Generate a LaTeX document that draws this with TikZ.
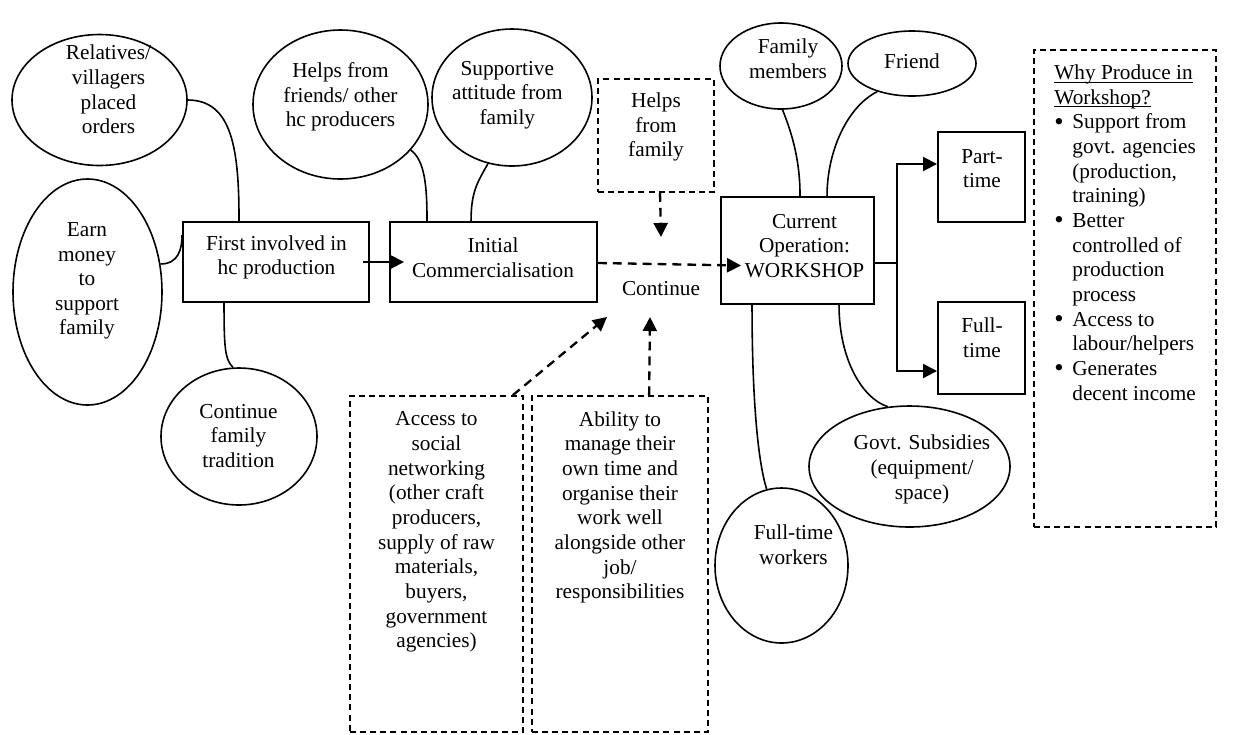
\documentclass[tikz,border=0pt]{standalone}
\usepackage{fontspec}
\setmainfont{Liberation Serif}
\usetikzlibrary{arrows.meta,calc,shapes.geometric}

% bullet item helpers for the list box
\newcommand\itm{\makebox[10.15pt][l]{\raisebox{-0.7pt}{\fontsize{15}{14}\selectfont\textbullet}}}
\newcommand\ind{\hspace*{10.15pt}}
\newcommand\ulhead[1]{\underline{\raisebox{0pt}[\height][0pt]{#1}}}

\tikzset{
  ell/.style 2 args={draw, ellipse, line width=0.9pt, inner sep=0pt,
    minimum width=#1*0.564pt, minimum height=#2*0.564pt},
  rbox/.style 2 args={draw, rectangle, line width=1.1pt, inner sep=0pt,
    minimum width=#1*0.564pt, minimum height=#2*0.564pt},
  dbox/.style 2 args={draw, rectangle, line width=1pt, dash pattern=on 3.4pt off 2.3pt,
    inner sep=0pt, minimum width=#1*0.564pt, minimum height=#2*0.564pt},
  txt/.style={align=center, inner sep=0pt, font=\fontsize{12}{13.9}\selectfont},
  link/.style={line width=0.9pt},
  arr/.style={line width=1.1pt, -{Triangle[length=7.9pt, width=7.9pt]}},
  darr/.style={line width=1.3pt, dash pattern=on 5pt off 3.4pt, -{Triangle[length=7.9pt, width=7.9pt]}},
}

\begin{document}
\begin{tikzpicture}[x=0.564pt, y=-0.564pt]
\useasboundingbox (0,0) rectangle (1240,734);

% ---- ellipses (influences) ----
\node[ell={175}{131}] (rel) at (99.5,100) {};
\node[txt] (rel-t) at (108.5,89.5) {Relatives/\\villagers\\placed\\orders};
\node[ell={149}{226}] (earn) at (87.5,292) {};
\node[txt] (earn-t) at (87,281) {Earn\\money\\to\\support\\family};
\node[ell={156}{137}] (trad) at (239,436.5) {};
\node[txt] (trad-t) at (238.5,436) {Continue\\family\\tradition};
\node[ell={175}{149}] (frd) at (340.5,104.5) {};
\node[txt] (frd-t) at (340.5,97) {Helps from\\friends/ other\\hc producers};
\node[ell={160}{137}] (supp) at (512,97.5) {};
\node[txt] (supp-t) at (507.3,95) {Supportive\\attitude from\\family};
\node[ell={122}{86}] (fam) at (781,66) {};
\node[txt] (fam-t) at (788,58.5) {Family\\members};
\node[ell={128}{65}] (frnd) at (912,63.5) {};
\node[txt] (frnd-t) at (912,61) {Friend};
\node[ell={201}{121}] (govt) at (909.5,466.5) {};
\node[txt] (govt-t) at (922,469.5) {Govt. Subsidies\\(equipment/\\space)};
\node[ell={133}{155}] (ftw) at (781.5,565.5) {};
\node[txt] (ftw-t) at (793.5,545) {Full-time\\workers};

% ---- stage boxes ----
\node[rbox={186}{80}] (box1) at (276,262) {};
\node[txt] (box1-t) at (276.5,257.5) {First involved in\\hc production};
\node[rbox={207}{80}] (box2) at (493.5,262) {};
\node[txt] (box2-t) at (493,258) {Initial\\Commercialisation};
\node[rbox={153}{107}] (box3) at (797.5,250.5) {};
\node[txt] (box3-t) at (804.5,246) {Current\\Operation:\\WORKSHOP};
\node[rbox={87}{90}] (part) at (981.5,177) {};
\node[txt] (part-t) at (982,168.5) {Part-\\time};
\node[rbox={87}{92}] (full) at (981.5,348) {};
\node[txt] (full-t) at (982,338) {Full-\\time};

% ---- dashed boxes ----
\node[dbox={116}{113}] (famhelp) at (656,135.5) {};
\node[txt] (famhelp-t) at (656,127) {Helps\\from\\family};
\node[txt] (cont) at (661,289) {Continue};
\node[dbox={173}{336}] (acc) at (436.5,564) {};
\node[txt, anchor=north] (acc-t) at (436.5,411.5) {Access to\\social\\networking\\(other craft\\producers,\\supply of raw\\materials,\\buyers,\\government\\agencies)};
\node[dbox={176}{336}] (abil) at (620,564) {};
\node[txt, anchor=north] (abil-t) at (620,411) {Ability to\\manage their\\own time and\\organise their\\work well\\alongside other\\job/\\responsibilities};
\node[dbox={182}{477}] (why) at (1125,288.5) {};
\node[txt, align=left, anchor=north west] (why-t) at (1054,64.5) {\ulhead{Why Produce in}\\\ulhead{Workshop?}\\
  \itm Support from\\\ind govt. agencies\\\ind (production,\\\ind training)\\
  \itm Better\\\ind controlled of\\\ind production\\\ind process\\
  \itm Access to\\\ind labour/helpers\\
  \itm Generates\\\ind decent income};

% ---- arrow end points around "Continue" ----
\coordinate (c-top) at (661,237);
\coordinate (c-left) at (607,317);
\coordinate (c-bot) at (650,317);
\coordinate (fk) at ($(box3.east)+(22,12.5)$);

% ---- curved links ----
\draw[link] (rel.east) .. controls +(45,0) and +(0,-70) .. ($(box1.north west)+(57,0)$);
\draw[link] (earn.21) .. controls +(18,0) and +(0,14) .. ($(box1.north west)+(0,14)$);
\draw[link] ($(box1.south west)+(42,0)$) .. controls +(0,45) and +(-8,-8) .. (trad.95);
\draw[link] (frd.-33) .. controls +(14,10) and +(0,-35) .. ($(box2.north west)+(38,0)$);
\draw[link] (supp.-110) .. controls +(-10,18) and +(0,-30) .. ($(box2.north west)+(82,0)$);
\draw[link] (fam.-88) .. controls +(10,25) and +(0,-35) .. ($(box3.north west)+(80,0)$);
\draw[link] (frnd.-141) .. controls +(-30,15) and +(0,-45) .. ($(box3.north west)+(107,0)$);
\draw[link] ($(box3.south west)+(119,0)$) .. controls +(0,55) and +(-25,-8) .. (govt.110);
\draw[link] ($(box3.south west)+(32,0)$) .. controls +(0,100) and +(-8,-25) .. (ftw.101);

% ---- arrows ----
\draw[arr] ($(box1.east)+(-7,0)$) -- ($(box2.west)+(15,0)$);
\draw[darr] ($(box2.east)+(0,1)$) -- ($(box3.west)+(21,15)$);
\draw[line width=1.1pt] (box3.east |- fk) -- (fk);
\draw[arr] (fk) |- ($(part.west)+(0,-13)$);
\draw[arr] (fk) |- ($(full.west)+(0,23)$);
\draw[darr] ($(famhelp.south)+(4,0)$) -- (c-top);
\draw[darr] ($(acc.north east)+(-11,0)$) -- (c-left);
\draw[darr] ($(abil.north west)+(118,0)$) -- (c-bot);
\end{tikzpicture}
\end{document}
